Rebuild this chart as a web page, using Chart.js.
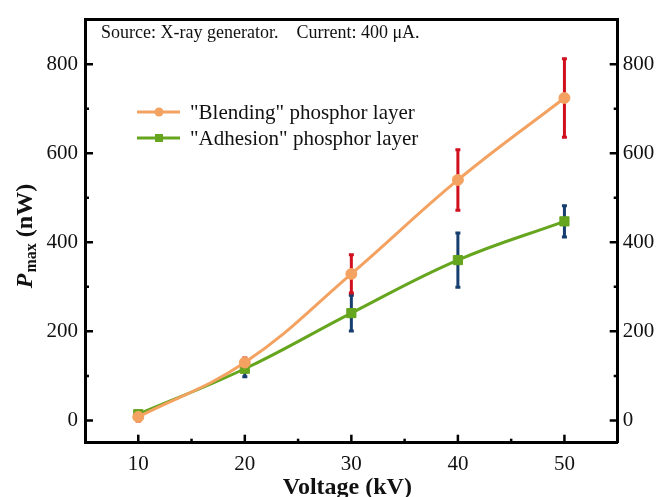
<!DOCTYPE html>
<html>
<head>
<meta charset="utf-8">
<script src="https://cdn.jsdelivr.net/npm/chart.js@4.4.1/dist/chart.umd.min.js"></script>
<style>
  html, body { margin: 0; padding: 0; background: #ffffff; }
  #wrap { width: 659px; height: 497px; position: relative; }
</style>
</head>
<body>
<div id="wrap"><canvas id="c" width="659" height="497"></canvas></div>
<script>
// ---- data ----
const voltages = [10, 20, 30, 40, 50];
const blending = [8, 130, 329, 540, 724];
const blendingErr = [9, 10, 43, 68, 88];
const adhesion = [14, 116, 241, 360, 447];
const adhesionErr = [5, 18, 40, 61, 35];
const xTicks = [10, 20, 30, 40, 50];
const xMinor = [15, 25, 35, 45];
const yTicks = [0, 200, 400, 600, 800];
const yMinor = [100, 300, 500, 700];
const seriesLabels = ['"Blending" phosphor layer', '"Adhesion" phosphor layer'];
const noteText = 'Source: X-ray generator.    Current: 400 \u03bcA.';
const xTitle = 'Voltage (kV)';

const ORANGE = '#F4A261';
const GREEN = '#66A51E';
const RED = '#D0101E';
const BLUE = '#163E6E';
const SERIF = '"Liberation Serif", "Times New Roman", serif';

const errorBars = [blendingErr, adhesionErr];
const errColors = [RED, BLUE];

const decorPlugin = {
  id: 'decor',
  beforeDatasetsDraw(chart) {
    const ctx = chart.ctx;
    const xs = chart.scales.x, ys = chart.scales.y;
    ctx.save();
    ctx.lineWidth = 3;
    ctx.lineCap = 'butt';
    [1, 0].forEach(di => {
      const ds = chart.data.datasets[di];
      ctx.strokeStyle = errColors[di];
      ds.data.forEach((p, i) => {
        const e = errorBars[di][i];
        const x = xs.getPixelForValue(p.x);
        const yt = ys.getPixelForValue(p.y + e);
        const yb = ys.getPixelForValue(p.y - e);
        ctx.beginPath();
        ctx.moveTo(x, yt); ctx.lineTo(x, yb);
        ctx.moveTo(x - 2.5, yt); ctx.lineTo(x + 2.5, yt);
        ctx.moveTo(x - 2.5, yb); ctx.lineTo(x + 2.5, yb);
        ctx.stroke();
      });
    });
    ctx.restore();
  },
  afterDraw(chart) {
    const ctx = chart.ctx;
    const a = chart.chartArea;
    const xs = chart.scales.x, ys = chart.scales.y;
    ctx.save();
    ctx.strokeStyle = '#000';
    ctx.lineWidth = 2.5;
    const yt = (vals, len) => vals.forEach(v => {
      const y = ys.getPixelForValue(v);
      ctx.beginPath();
      ctx.moveTo(a.left, y); ctx.lineTo(a.left + len, y);
      ctx.moveTo(a.right, y); ctx.lineTo(a.right - len, y);
      ctx.stroke();
    });
    yt(yTicks, 8); yt(yMinor, 4);
    const xt = (vals, len) => vals.forEach(v => {
      const x = xs.getPixelForValue(v);
      ctx.beginPath();
      ctx.moveTo(x, a.bottom); ctx.lineTo(x, a.bottom - len);
      ctx.stroke();
    });
    xt(xTicks, 8); xt(xMinor, 4);

    ctx.fillStyle = '#111';
    ctx.font = '18px ' + SERIF;
    ctx.textBaseline = 'alphabetic';
    ctx.textAlign = 'left';
    ctx.fillText(noteText, 101, 38);

    const rows = [
      {label: seriesLabels[0], color: ORANGE, shape: 'circle', y: 112},
      {label: seriesLabels[1], color: GREEN, shape: 'rect', y: 138}
    ];
    rows.forEach(r => {
      ctx.strokeStyle = r.color;
      ctx.fillStyle = r.color;
      ctx.lineWidth = 3;
      ctx.beginPath();
      ctx.moveTo(137, r.y); ctx.lineTo(180, r.y);
      ctx.stroke();
      ctx.beginPath();
      if (r.shape === 'circle') ctx.arc(159, r.y, 4.5, 0, Math.PI * 2);
      else ctx.rect(155, r.y - 4, 8, 8);
      ctx.fill();
      ctx.fillStyle = '#111';
      ctx.font = '21px ' + SERIF;
      ctx.textBaseline = 'middle';
      ctx.fillText(r.label, 190, r.y + 1);
    });

    ctx.fillStyle = '#111';
    ctx.font = 'bold 24px ' + SERIF;
    ctx.textAlign = 'center';
    ctx.textBaseline = 'alphabetic';
    ctx.fillText(xTitle, (a.left + a.right) / 2 - 4, 494);

    const fP = 'italic bold 24px ' + SERIF;
    const fSub = 'bold 16px ' + SERIF;
    const fRest = 'bold 24px ' + SERIF;
    ctx.font = fP; const wP = ctx.measureText('P').width;
    ctx.font = fSub; const wS = ctx.measureText('max').width;
    ctx.font = fRest; const wR = ctx.measureText(' (nW)').width;
    const total = wP + wS + wR + 1;
    ctx.translate(32, 236);
    ctx.rotate(-Math.PI / 2);
    ctx.textAlign = 'left';
    let x0 = -total / 2;
    ctx.font = fP; ctx.fillText('P', x0, 0); x0 += wP + 1;
    ctx.font = fSub; ctx.fillText('max', x0, 4); x0 += wS;
    ctx.font = fRest; ctx.fillText(' (nW)', x0, 0);
    ctx.restore();
  }
};

const tickFont = {family: SERIF, size: 21};
const setYTicks = s => { s.ticks = yTicks.map(v => ({value: v})); };
const setXTicks = s => { s.ticks = xTicks.map(v => ({value: v})); };

new Chart(document.getElementById('c'), {
  type: 'line',
  data: {
    datasets: [
      {
        label: seriesLabels[0],
        data: voltages.map((v, i) => ({x: v, y: blending[i]})),
        borderColor: ORANGE,
        backgroundColor: ORANGE,
        pointBackgroundColor: ORANGE,
        pointBorderColor: ORANGE,
        pointStyle: 'circle',
        pointRadius: 5.5,
        pointBorderWidth: 1,
        borderWidth: 3,
        tension: 0.4,
        cubicInterpolationMode: 'default'
      },
      {
        label: seriesLabels[1],
        data: voltages.map((v, i) => ({x: v, y: adhesion[i]})),
        borderColor: GREEN,
        backgroundColor: GREEN,
        pointBackgroundColor: GREEN,
        pointBorderColor: GREEN,
        pointStyle: 'rect',
        pointRadius: 6.5,
        pointBorderWidth: 1,
        borderWidth: 3,
        tension: 0.4,
        cubicInterpolationMode: 'default'
      }
    ]
  },
  options: {
    responsive: false,
    animation: false,
    devicePixelRatio: 1,
    layout: {padding: 0},
    plugins: {legend: {display: false}, tooltip: {enabled: false}, title: {display: false}},
    scales: {
      x: {
        type: 'linear', position: 'bottom', min: 5, max: 55,
        afterBuildTicks: setXTicks,
        afterFit: s => { s.height = 54.3; },
        grid: {display: false, drawTicks: false},
        border: {display: true, color: '#000', width: 3},
        ticks: {font: tickFont, color: '#111', padding: 9, maxRotation: 0}
      },
      xTop: {
        type: 'linear', position: 'top', min: 5, max: 55,
        afterFit: s => { s.height = 14.7; },
        grid: {display: false, drawTicks: false},
        border: {display: true, color: '#000', width: 3},
        ticks: {display: false}
      },
      y: {
        type: 'linear', position: 'left', min: -50, max: 900,
        afterBuildTicks: setYTicks,
        afterFit: s => { s.width = 85; },
        grid: {display: false, drawTicks: false},
        border: {display: true, color: '#000', width: 3},
        ticks: {font: tickFont, color: '#111', padding: 7}
      },
      yRight: {
        type: 'linear', position: 'right', min: -50, max: 900,
        afterBuildTicks: setYTicks,
        afterFit: s => { s.width = 41.3; },
        grid: {display: false, drawTicks: false},
        border: {display: true, color: '#000', width: 3},
        ticks: {font: tickFont, color: '#111', padding: 5}
      }
    }
  },
  plugins: [decorPlugin]
});
</script>
</body>
</html>
